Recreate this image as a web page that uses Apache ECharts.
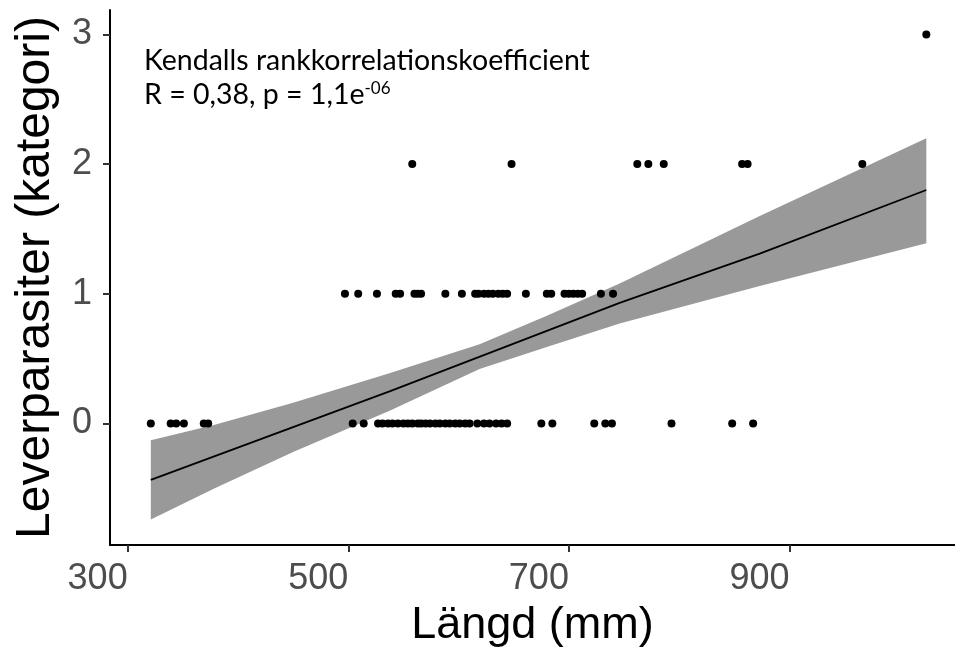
<!DOCTYPE html>
<html>
<head>
<meta charset="utf-8">
<script src="https://cdn.jsdelivr.net/npm/echarts@6/dist/echarts.min.js"></script>
<style>
  html, body { margin: 0; padding: 0; background: #fff; }
  #chart { width: 955px; height: 660px; }
</style>
</head>
<body>
<div id="chart"></div>
<script>
// Längd (mm) of fish, grouped by parasite category
const lengthsCat0 = [321, 339, 344, 351, 369, 373, 504, 514, 527, 531, 536, 540, 545, 550, 554, 558,
  563, 566, 570, 574, 579, 583, 588, 592, 597, 601, 606, 610, 617, 623, 628, 634, 639, 644,
  675, 685, 723, 733, 739, 793, 848, 867]
const lengthsCat1 = [497, 509, 526, 543, 547, 560, 563, 566, 588, 603, 615, 618, 623, 627, 631,
  636, 640, 644, 661, 680, 684, 696, 700, 704, 708, 712, 729, 740]
const lengthsCat2 = [558, 648, 762, 772, 786, 857, 862, 966]
const lengthsCat3 = [1024]

// linear fit and its confidence band
const fitX = [321, 538, 746, 873, 1024]
const fitY = [-0.435, 0.25, 0.93, 1.31, 1.80]
const bandX = [321, 379, 450, 538, 619, 680, 746, 873, 1024]
const bandLower = [-0.74, -0.50, -0.22, 0.10, 0.42, 0.59, 0.77, 1.06, 1.39]
const bandUpper = [-0.13, -0.01, 0.16, 0.39, 0.61, 0.83, 1.08, 1.60, 2.20]

const xTicks = [300, 500, 700, 900]
const yTicks = [0, 1, 2, 3]

const points = [
  ...lengthsCat0.map(x => [x, 0]),
  ...lengthsCat1.map(x => [x, 1]),
  ...lengthsCat2.map(x => [x, 2]),
  ...lengthsCat3.map(x => [x, 3])
]

const chart = echarts.init(document.getElementById('chart'))

const axisFont = 'Liberation Sans, Arial, sans-serif'

chart.setOption({
  animation: false,
  backgroundColor: '#fff',
  grid: { left: 110, right: 0, top: 10, bottom: 115, containLabel: false, outerBoundsMode: 'none' },
  xAxis: {
    type: 'value',
    min: 284,
    max: 1050,
    name: 'Längd (mm)',
    nameLocation: 'middle',
    nameGap: 58,
    nameTextStyle: { fontSize: 45, color: '#000', fontFamily: axisFont },
    axisLine: { show: true, onZero: false, lineStyle: { color: '#000', width: 2 } },
    axisTick: { show: true, customValues: xTicks, length: 7, lineStyle: { color: '#333', width: 2 } },
    axisLabel: { customValues: xTicks, margin: 16, align: 'right', fontSize: 36, color: '#4d4d4d', fontFamily: axisFont },
    splitLine: { show: false }
  },
  yAxis: {
    type: 'value',
    min: -0.937,
    max: 3.188,
    name: 'Leverparasiter (kategori)',
    nameLocation: 'middle',
    nameGap: 50,
    nameTextStyle: { fontSize: 48, color: '#000', fontFamily: axisFont },
    axisLine: { show: true, onZero: false, lineStyle: { color: '#000', width: 2 } },
    axisTick: { show: true, customValues: yTicks, length: 7, lineStyle: { color: '#333', width: 2 } },
    axisLabel: { customValues: yTicks, margin: 18, fontSize: 36, color: '#4d4d4d', fontFamily: axisFont },
    splitLine: { show: false }
  },
  graphic: [
    {
      type: 'text',
      left: 144,
      top: 46,
      style: {
        text: 'Kendalls rankkorrelationskoefficient',
        font: '28.5px Lato, sans-serif',
        fill: '#000'
      }
    },
    {
      type: 'text',
      left: 144,
      top: 80,
      style: {
        text: '{a|R = 0,38, p = 1,1e}{s|-06}',
        fill: '#000',
        rich: {
          a: { fontSize: 28.5, fontFamily: 'Lato, sans-serif', lineHeight: 34, verticalAlign: 'top' },
          s: { fontSize: 17, fontFamily: 'Lato, sans-serif', lineHeight: 17, verticalAlign: 'top' }
        }
      }
    }
  ],
  series: [
    {
      // confidence band as one polygon
      type: 'custom',
      data: [[bandX[0], bandLower[0]]],
      z: 1,
      silent: true,
      renderItem: function (params, api) {
        const pts = []
        for (let i = 0; i < bandX.length; i++) pts.push(api.coord([bandX[i], bandLower[i]]))
        for (let i = bandX.length - 1; i >= 0; i--) pts.push(api.coord([bandX[i], bandUpper[i]]))
        return { type: 'polygon', shape: { points: pts }, style: { fill: '#999999' } }
      }
    },
    {
      type: 'line',
      data: fitX.map((x, i) => [x, fitY[i]]),
      showSymbol: false,
      z: 2,
      lineStyle: { color: '#000', width: 1.8 }
    },
    {
      type: 'scatter',
      data: points,
      symbolSize: 8,
      z: 3,
      itemStyle: { color: '#000', opacity: 1 }
    }
  ]
})
</script>
</body>
</html>
